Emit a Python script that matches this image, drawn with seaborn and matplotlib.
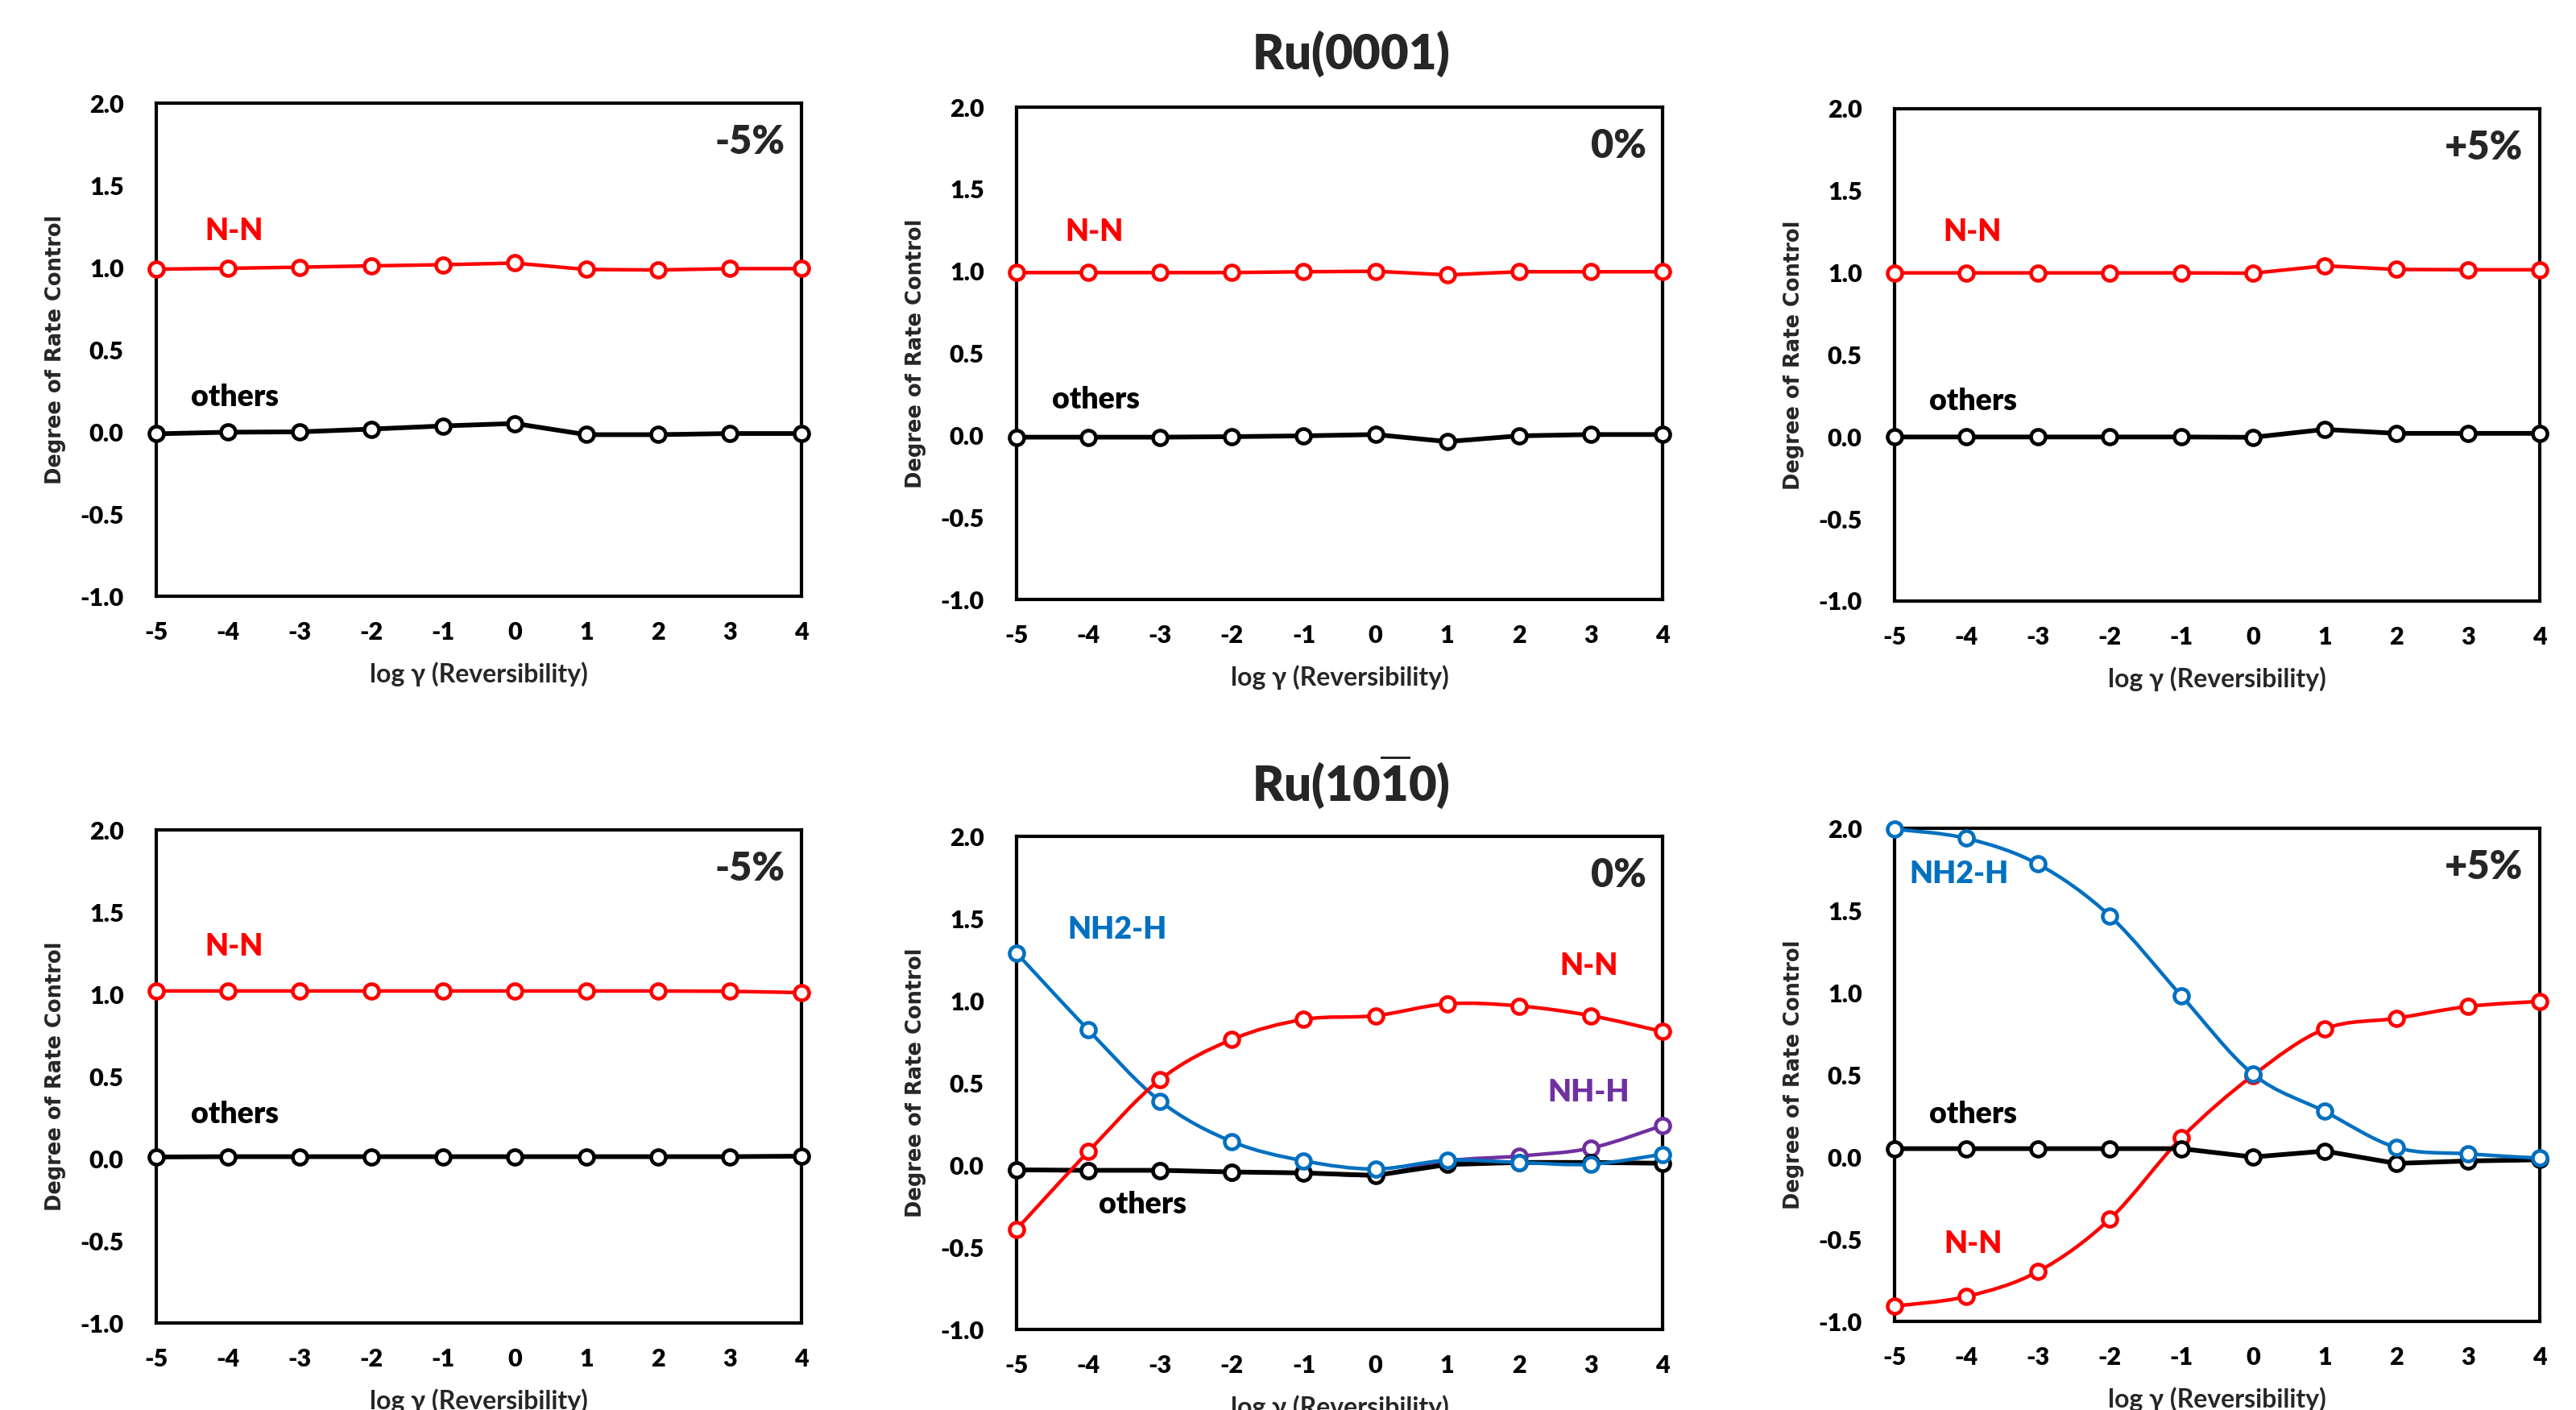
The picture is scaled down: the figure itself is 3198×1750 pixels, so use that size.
import numpy as np
import pandas as pd
import matplotlib
matplotlib.use("Agg")
import matplotlib.pyplot as plt
from matplotlib.path import Path
from matplotlib.patches import PathPatch
import seaborn as sns

# ---------------- data ----------------
log_gamma = [-5, -4, -3, -2, -1, 0, 1, 2, 3, 4]

# Ru(0001)
a_nn     = [0.990, 0.995, 1.002, 1.010, 1.017, 1.027, 0.988, 0.985, 0.993, 0.993]
a_others = [-0.012, -0.002, 0.000, 0.017, 0.036, 0.051, -0.017, -0.017, -0.010, -0.010]
b_nn     = [0.992, 0.992, 0.992, 0.992, 0.997, 1.000, 0.978, 0.997, 0.997, 0.997]
b_others = [-0.011, -0.011, -0.011, -0.008, -0.003, 0.005, -0.038, -0.003, 0.005, 0.005]
c_nn     = [1.000, 1.000, 1.000, 1.000, 1.000, 0.998, 1.043, 1.021, 1.019, 1.019]
c_others = [0.000, 0.000, 0.000, 0.000, 0.000, -0.002, 0.046, 0.022, 0.022, 0.022]

# Ru(10-10)
d_nn     = [1.020, 1.020, 1.020, 1.020, 1.020, 1.020, 1.020, 1.020, 1.018, 1.010]
d_others = [0.010, 0.012, 0.012, 0.012, 0.012, 0.012, 0.012, 0.012, 0.012, 0.015]
e_nn     = [-0.391, 0.082, 0.520, 0.764, 0.886, 0.909, 0.981, 0.968, 0.909, 0.812]
e_nh2h   = [1.290, 0.822, 0.389, 0.143, 0.026, -0.024, 0.029, 0.016, 0.005, 0.066]
e_nhh    = [-0.030, -0.032, -0.032, -0.042, -0.046, -0.060, 0.025, 0.055, 0.103, 0.241]
e_others = [-0.029, -0.032, -0.032, -0.042, -0.048, -0.063, 0.003, 0.016, 0.016, 0.011]
f_nn     = [-0.907, -0.849, -0.697, -0.379, 0.116, 0.497, 0.779, 0.844, 0.916, 0.947]
f_nh2h   = [1.995, 1.939, 1.782, 1.468, 0.981, 0.504, 0.277, 0.058, 0.019, -0.007]
f_others = [0.051, 0.051, 0.051, 0.051, 0.051, 0.000, 0.036, -0.039, -0.024, -0.017]

y_ticks = [-1.0, -0.5, 0.0, 0.5, 1.0, 1.5, 2.0]
strain_labels = ["-5%", "0%", "+5%", "-5%", "0%", "+5%"]
surface_titles = [r"$\mathbf{Ru(0001)}$", r"$\mathbf{Ru(10\overline{1}0)}$"]

RED = "#FF0000"
BLUE = "#0070C0"
PURPLE = "#7030A0"
BLACK = "#000000"

# ---------------- style ----------------
sns.set_style("white")
plt.rcParams["font.family"] = ["Lato", "DejaVu Sans"]
plt.rcParams["axes.unicode_minus"] = False
plt.rcParams["mathtext.fontset"] = "custom"
plt.rcParams["mathtext.rm"] = "Lato"
plt.rcParams["mathtext.bf"] = "Lato:weight=heavy"

fig = plt.figure(figsize=(31.98, 17.5), dpi=100)

W, H = 3198.0, 1750.0
# panel boxes in pixels: left, top, right, bottom
boxes = [
    (194, 128, 995, 740),
    (1262, 133, 2064, 744),
    (2352, 135, 3153, 746),
    (194, 1030, 995, 1642),
    (1262, 1038, 2064, 1650),
    (2352, 1028, 3153, 1640),
]
axes = []
for (l, t, r, b) in boxes:
    ax = fig.add_axes([l / W, 1 - b / H, (r - l) / W, (b - t) / H])
    axes.append(ax)


def smooth_curve(ax, xs, ys, color, lw, z):
    pts = np.column_stack([xs, ys]).astype(float)
    n = len(pts)
    verts = [pts[0]]
    codes = [Path.MOVETO]
    for i in range(n - 1):
        p0 = pts[i - 1] if i > 0 else pts[i]
        p1 = pts[i]
        p2 = pts[i + 1]
        p3 = pts[i + 2] if i + 2 < n else pts[i + 1]
        c1 = p1 + (p2 - p0) / 6.0
        c2 = p2 - (p3 - p1) / 6.0
        verts += [c1, c2, p2]
        codes += [Path.CURVE4] * 3
    patch = PathPatch(Path(verts, codes), facecolor="none", edgecolor=color,
                      lw=lw, zorder=z, clip_on=False, capstyle="round",
                      joinstyle="round")
    ax.add_patch(patch)


def series(ax, ys, color, lw, smooth=False, z=3):
    df = pd.DataFrame({"x": log_gamma, "y": ys})
    mk = dict(marker="o", markersize=13, markerfacecolor="white",
              markeredgecolor=color, markeredgewidth=3.3, clip_on=False)
    if smooth:
        smooth_curve(ax, df["x"].values, df["y"].values, color, lw, z)
        sns.lineplot(data=df, x="x", y="y", ax=ax, color=color, linestyle="none",
                     zorder=z + 0.5, **mk)
    else:
        sns.lineplot(data=df, x="x", y="y", ax=ax, color=color, lw=lw,
                     zorder=z, **mk)


# top row
series(axes[0], a_nn, RED, 3.2)
series(axes[0], a_others, BLACK, 4.2)
series(axes[1], b_nn, RED, 3.2)
series(axes[1], b_others, BLACK, 4.2)
series(axes[2], c_nn, RED, 3.2)
series(axes[2], c_others, BLACK, 4.2)
# bottom row
series(axes[3], d_nn, RED, 3.2)
series(axes[3], d_others, BLACK, 4.2)
series(axes[4], e_nhh, PURPLE, 3.2, smooth=True, z=3)
series(axes[4], e_others, BLACK, 4.2, z=4)
series(axes[4], e_nh2h, BLUE, 3.2, smooth=True, z=5)
series(axes[4], e_nn, RED, 3.2, smooth=True, z=6)
series(axes[5], f_nn, RED, 3.2, smooth=True, z=3)
series(axes[5], f_others, BLACK, 4.2, z=4)
series(axes[5], f_nh2h, BLUE, 3.2, smooth=True, z=5)

for i, ax in enumerate(axes):
    ax.set_xlim(-5, 4)
    ax.set_ylim(-1, 2)
    ax.set_xticks(log_gamma)
    ax.set_xticklabels([str(v) for v in log_gamma])
    ax.set_yticks(y_ticks)
    ax.set_yticklabels([f"{v:.1f}" for v in y_ticks])
    for s in ax.spines.values():
        s.set_visible(True)
        s.set_color("black")
        s.set_linewidth(3.0)
    ax.tick_params(axis="both", direction="in", length=7, width=2.5,
                   labelsize=22, colors="black")
    ax.tick_params(axis="x", pad=22)
    ax.tick_params(axis="y", pad=29)
    for lab in ax.get_xticklabels() + ax.get_yticklabels():
        lab.set_fontweight("heavy")
    ax.set_xlabel("log \u03b3 (Reversibility)", fontsize=23, fontweight="bold")
    ax.set_ylabel("Degree of Rate Control", fontsize=18.5, fontweight="bold",
                  family="DejaVu Sans")
    ax.xaxis.set_label_coords(0.5, -0.133)
    ax.yaxis.set_label_coords(-0.14, 0.5)
    ax.text(3.77, 1.76, strain_labels[i], fontsize=35, fontweight="heavy",
            ha="right", va="center")
    ax.set_facecolor("white")

ann = dict(fontsize=27, fontweight="heavy", ha="center", va="center")
for ax, ynn, yot in [(axes[0], 1.22, 0.21), (axes[1], 1.24, 0.22),
                     (axes[2], 1.25, 0.22), (axes[3], 1.29, 0.27)]:
    ax.text(-3.92, ynn, "N-N", color=RED, **ann)
    ax.text(-3.9, yot, "others", color=BLACK, **ann)

axes[4].text(-3.6, 1.43, "NH2-H", color=BLUE, **ann)
axes[4].text(2.97, 1.21, "N-N", color=RED, **ann)
axes[4].text(2.97, 0.44, "NH-H", color=PURPLE, **ann)
axes[4].text(-3.24, -0.24, "others", color=BLACK, **ann)

axes[5].text(-4.1, 1.72, "NH2-H", color=BLUE, **ann)
axes[5].text(-3.9, 0.26, "others", color=BLACK, **ann)
axes[5].text(-3.9, -0.53, "N-N", color=RED, **ann)

fig.text(1677 / W, 1 - 67 / H, surface_titles[0], fontsize=43,
         ha="center", va="center")
fig.text(1677 / W, 1 - 971 / H, surface_titles[1], fontsize=43,
         ha="center", va="center")

fig.savefig("out.png", dpi=100, facecolor="white")
